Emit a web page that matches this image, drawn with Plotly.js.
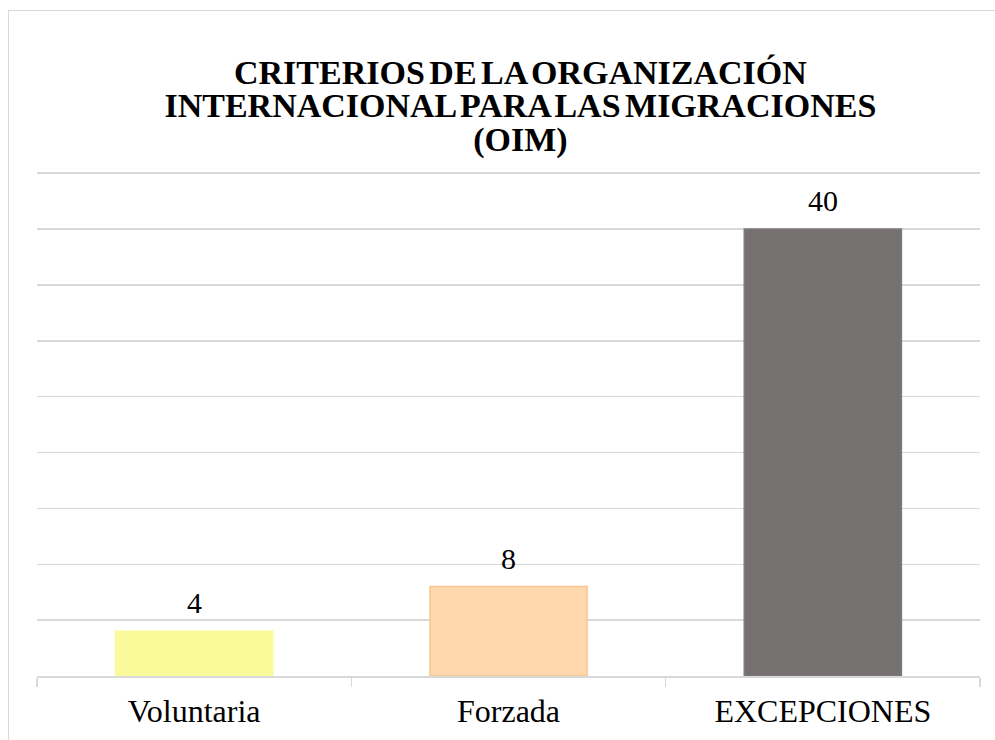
<!DOCTYPE html>
<html>
<head>
<meta charset="utf-8">
<script src="https://cdn.plot.ly/plotly-3.0.1.min.js"></script>
<style>
html,body{margin:0;padding:0;background:#fff;overflow:hidden;}
#frame{position:absolute;left:8px;top:10px;width:1100px;height:900px;border:1px solid #d9d9d9;box-sizing:border-box;}
#chart{position:absolute;left:0;top:0;width:995px;height:740px;}
</style>
</head>
<body>
<div id="frame"></div>
<div id="chart"></div>
<script>
const categories = ["Voluntaria", "Forzada", "EXCEPCIONES"];
const values = [4, 8, 40];
const barColors = ["#FAFA9B", "#FDD7AE", "#767171"];
const barLines = ["#FAFA9B", "#FAC78E", "#7F7B7B"];
const titleLines = ["CRITERIOS DE LA ORGANIZACIÓN", "INTERNACIONAL PARA LAS MIGRACIONES", "(OIM)"];

const serif = "Liberation Serif";

const trace = {
  type: "bar",
  x: categories,
  y: values,
  width: 0.5,
  marker: {color: barColors, line: {color: barLines, width: 1.5}},
  hoverinfo: "x+y"
};

const annotations = categories.map((c, i) => ({
  x: c, y: values[i], xref: "x", yref: "y",
  text: String(values[i]),
  showarrow: false, yanchor: "bottom", yshift: 10,
  font: {family: serif, size: 30, color: "#000"}
}));

const layout = {
  width: 995, height: 740,
  margin: {l: 37, r: 15, t: 162, b: 64},
  paper_bgcolor: "rgba(0,0,0,0)",
  plot_bgcolor: "rgba(0,0,0,0)",
  font: {family: serif, color: "#000"},
  title: {
    text: titleLines.map(l => "<span style='font-size:34px;word-spacing:-4px'>" + l + "</span>").join("<br>"),
    font: {family: serif, size: 26, color: "#000", weight: "bold"},
    x: 0.523, xanchor: "center",
    y: 0.887, yanchor: "top"
  },
  annotations: annotations,
  xaxis: {
    type: "category",
    showline: true, linecolor: "#d9d9d9", linewidth: 1.5,
    ticks: "outside", tickson: "boundaries", ticklen: 9, tickcolor: "#d9d9d9", tickwidth: 1.5,
    tickfont: {family: serif, size: 32, color: "#000"},
    ticklabelstandoff: 6,
    showgrid: false, zeroline: false
  },
  yaxis: {
    range: [0, 46], dtick: 5, showticklabels: false,
    showgrid: true, gridcolor: "#d9d9d9", gridwidth: 1.5,
    zeroline: false, showline: false, ticks: ""
  },
  bargap: 0.5,
  showlegend: false
};

Plotly.newPlot("chart", [trace], layout, {displayModeBar: false, staticPlot: true});
</script>
</body>
</html>
